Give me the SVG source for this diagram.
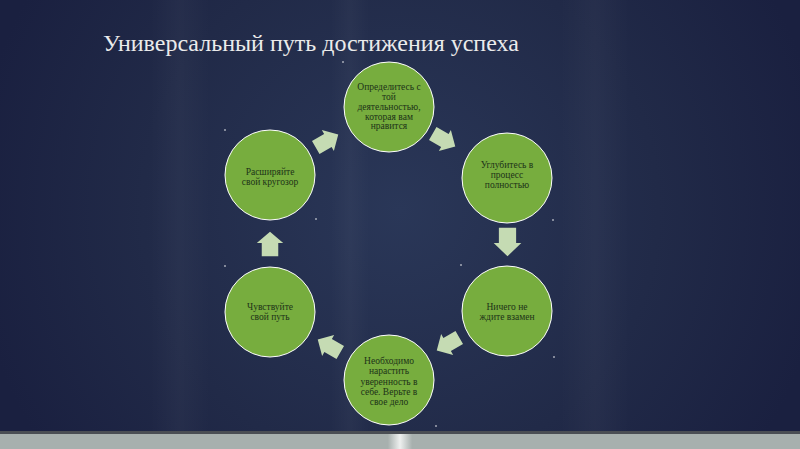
<svg xmlns="http://www.w3.org/2000/svg" width="800" height="449" viewBox="0 0 800 449">
<defs>
<radialGradient id="bg" cx="400" cy="210" r="430" gradientUnits="userSpaceOnUse">
<stop offset="0" stop-color="#2a3758"/>
<stop offset="0.6" stop-color="#212a48"/>
<stop offset="1" stop-color="#1a2040"/>
</radialGradient>
<linearGradient id="streak" x1="0" y1="0" x2="1" y2="0">
<stop offset="0" stop-color="#ffffff" stop-opacity="0"/>
<stop offset="0.5" stop-color="#ffffff" stop-opacity="0.03"/>
<stop offset="1" stop-color="#ffffff" stop-opacity="0"/>
</linearGradient>
<linearGradient id="hl" x1="0" y1="0" x2="1" y2="0">
<stop offset="0" stop-color="#a8b1af"/>
<stop offset="0.5" stop-color="#eef0ef"/>
<stop offset="1" stop-color="#a8b1af"/>
</linearGradient>
<path id="arr" d="M-13,-7.5 L1,-7.5 L1,-12 L13,0 L1,12 L1,7.5 L-13,7.5 Z"/>
</defs>
<style>
.node circle{fill:#77ad3e;stroke:#ffffff;stroke-width:1}
.node text{font-family:"Liberation Serif","Times New Roman",serif;font-size:9.5px;fill:#1d3318;text-anchor:middle}
.conn use{fill:#c5dbb3}
.dot{fill:#ffffff}
</style>
<rect width="800" height="449" fill="url(#bg)"/>
<rect x="150" y="0" width="60" height="431" fill="url(#streak)"/>
<rect x="330" y="0" width="40" height="431" fill="url(#streak)"/>
<rect x="560" y="0" width="70" height="431" fill="url(#streak)"/>
<text x="103" y="51" font-family="Liberation Serif,Times New Roman,serif" font-size="24" fill="#ebebeb">Универсальный путь достижения успеха</text>
<g id="connectors" class="conn">
<use href="#arr" transform="translate(444,140) rotate(30)"/>
<use href="#arr" transform="translate(507.5,242) rotate(90) scale(1.1,1.15)"/>
<use href="#arr" transform="translate(448,344) rotate(150)"/>
<use href="#arr" transform="translate(329,346) rotate(210)"/>
<use href="#arr" transform="translate(270,244) rotate(-90) scale(0.95,1.1)"/>
<use href="#arr" transform="translate(327,141) rotate(-30)"/>
</g>
<g id="n1" class="node">
<circle cx="389" cy="107" r="45"/>
<text x="389" y="90">Определитесь с</text>
<text x="389" y="99.5">той</text>
<text x="389" y="110">деятельностью,</text>
<text x="389" y="119.5">которая вам</text>
<text x="389" y="129">нравится</text>
</g>
<g id="n2" class="node">
<circle cx="507" cy="178" r="45"/>
<text x="507" y="168">Углубитесь в</text>
<text x="507" y="178">процесс</text>
<text x="507" y="188">полностью</text>
</g>
<g id="n3" class="node">
<circle cx="507" cy="311" r="45"/>
<text x="507" y="310">Ничего не</text>
<text x="507" y="320">ждите взамен</text>
</g>
<g id="n4" class="node">
<circle cx="389" cy="380" r="45"/>
<text x="389" y="364">Необходимо</text>
<text x="389" y="374">нарастить</text>
<text x="389" y="385">уверенность в</text>
<text x="389" y="395">себе. Верьте в</text>
<text x="389" y="405">свое дело</text>
</g>
<g id="n5" class="node">
<circle cx="270" cy="312" r="45"/>
<text x="270" y="310">Чувствуйте</text>
<text x="270" y="320">свой путь</text>
</g>
<g id="n6" class="node">
<circle cx="270" cy="175" r="45"/>
<text x="270" y="175">Расширяйте</text>
<text x="270" y="185">свой кругозор</text>
</g>
<g>
<circle class="dot" cx="225" cy="130" r="0.8"/>
<circle class="dot" cx="316" cy="219" r="0.8"/>
<circle class="dot" cx="225" cy="266" r="0.8"/>
<circle class="dot" cx="461" cy="265" r="0.8"/>
<circle class="dot" cx="554" cy="357" r="0.8"/>
<circle class="dot" cx="553" cy="220" r="0.8"/>
<circle class="dot" cx="343" cy="62" r="0.8"/>
<circle class="dot" cx="436" cy="426" r="0.8"/>
</g>
<rect x="0" y="431" width="800" height="4" fill="#4a4e54"/>
<rect x="0" y="434" width="800" height="15" fill="#a7b0ae"/>
<rect x="388" y="434" width="24" height="15" fill="url(#hl)"/>
</svg>
